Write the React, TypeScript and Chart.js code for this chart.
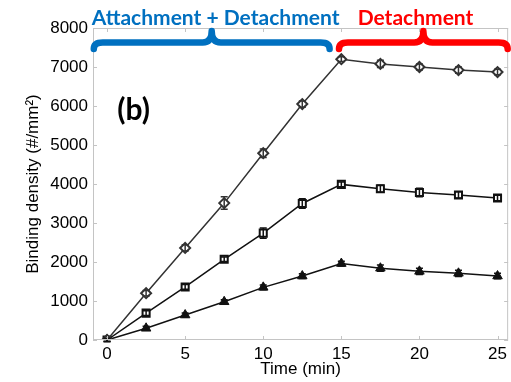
import React, { useEffect, useRef } from 'react';
import { Chart, registerables } from 'chart.js';

Chart.register(...registerables);

// ---- data ----
const times = [0, 2.5, 5, 7.5, 10, 12.5, 15, 17.5, 20, 22.5, 25];
const highValues = [0, 1200, 2360, 3510, 4790, 6050, 7200, 7080, 7000, 6920, 6870];
const highErrors = [40, 70, 80, 160, 110, 80, 60, 90, 80, 80, 70];
const midValues = [0, 690, 1360, 2070, 2740, 3500, 3990, 3880, 3780, 3720, 3640];
const midErrors = [40, 60, 60, 60, 130, 120, 60, 90, 110, 80, 70];
const lowValues = [0, 300, 640, 980, 1350, 1640, 1960, 1840, 1760, 1710, 1640];
const lowErrors = [40, 50, 50, 50, 60, 60, 60, 80, 80, 80, 70];

const xTicks = [0, 5, 10, 15, 20, 25];
const yTicks = [0, 1000, 2000, 3000, 4000, 5000, 6000, 7000, 8000];

const phaseLabels = ['Attachment + Detachment', 'Detachment'];
const phaseColors = ['#0070C0', '#FF0000'];
const phaseStarts = [-0.85, 14.85];
const phaseEnds = [14.25, 25.65];
const phaseTips = [6.7, 20.25];
const phaseLabelCenters = [6.95, 19.75];

const panelLabel = '(b)';
const panelLabelX = 1.7;
const panelLabelY = 5880;

const AXIS_FONT = '"Liberation Sans", Arial, sans-serif';
const NOTE_FONT = 'Lato, "Open Sans", sans-serif';

const errorPlugin = {
  id: 'errorBarsAndNotes',
  afterDatasetsDraw(chart: any) {
    const ctx = chart.ctx;
    const xs = chart.scales.x;
    const ys = chart.scales.y;
    const errs = [highErrors, midErrors, lowErrors];
    ctx.save();
    chart.data.datasets.forEach((ds: any, i: number) => {
      ctx.strokeStyle = ds.borderColor;
      ctx.lineWidth = 1.5;
      ds.data.forEach((p: any, j: number) => {
        const e = errs[i][j];
        const px = xs.getPixelForValue(p.x);
        const y1 = ys.getPixelForValue(p.y - e);
        const y2 = ys.getPixelForValue(p.y + e);
        ctx.beginPath();
        ctx.moveTo(px, y1);
        ctx.lineTo(px, y2);
        ctx.moveTo(px - 3.5, y1);
        ctx.lineTo(px + 3.5, y1);
        ctx.moveTo(px - 3.5, y2);
        ctx.lineTo(px + 3.5, y2);
        ctx.stroke();
      });
    });
    ctx.restore();
  },
  afterDraw(chart: any) {
    const ctx = chart.ctx;
    const xs = chart.scales.x;
    const ys = chart.scales.y;
    const a = chart.chartArea;
    ctx.save();
    // frame
    ctx.strokeStyle = '#c4c4c4';
    ctx.lineWidth = 1;
    ctx.strokeRect(a.left + 0.5, a.top + 0.5, a.right - a.left - 1, a.bottom - a.top - 1);
    ctx.beginPath();
    xTicks.forEach((t) => {
      const px = Math.round(xs.getPixelForValue(t)) + 0.5;
      ctx.moveTo(px, a.bottom);
      ctx.lineTo(px, a.bottom - 4);
      ctx.moveTo(px, a.top);
      ctx.lineTo(px, a.top + 4);
    });
    yTicks.forEach((t) => {
      const py = Math.round(ys.getPixelForValue(t)) + 0.5;
      ctx.moveTo(a.left, py);
      ctx.lineTo(a.left + 4, py);
      ctx.moveTo(a.right, py);
      ctx.lineTo(a.right - 4, py);
    });
    ctx.stroke();

    // braces
    ctx.lineWidth = 6.5;
    ctx.lineCap = 'round';
    ctx.lineJoin = 'round';
    const yTip = a.top + 3;
    const yMid = a.top + 14.5;
    const yEnd = a.top + 21;
    const r = 9;
    for (let i = 0; i < phaseLabels.length; i++) {
      const x1 = xs.getPixelForValue(phaseStarts[i]);
      const x2 = xs.getPixelForValue(phaseEnds[i]);
      const xm = xs.getPixelForValue(phaseTips[i]);
      ctx.strokeStyle = phaseColors[i];
      ctx.beginPath();
      ctx.moveTo(x1, yEnd);
      ctx.quadraticCurveTo(x1, yMid, x1 + r, yMid);
      ctx.lineTo(xm - r, yMid);
      ctx.quadraticCurveTo(xm, yMid, xm, yTip);
      ctx.quadraticCurveTo(xm, yMid, xm + r, yMid);
      ctx.lineTo(x2 - r, yMid);
      ctx.quadraticCurveTo(x2, yMid, x2, yEnd);
      ctx.stroke();

      ctx.fillStyle = phaseColors[i];
      ctx.font = `bold 21px ${NOTE_FONT}`;
      ctx.textAlign = 'center';
      ctx.textBaseline = 'alphabetic';
      ctx.fillText(phaseLabels[i], xs.getPixelForValue(phaseLabelCenters[i]), 25);
    }

    // panel label
    ctx.fillStyle = '#000';
    ctx.font = `bold 30px ${NOTE_FONT}`;
    ctx.textAlign = 'center';
    ctx.textBaseline = 'middle';
    ctx.fillText(panelLabel, xs.getPixelForValue(panelLabelX), ys.getPixelForValue(panelLabelY));
    ctx.restore();
  },
};

const App: React.FC = () => {
  const canvasRef = useRef<HTMLCanvasElement | null>(null);

  useEffect(() => {
    if (!canvasRef.current) return;
    const toPts = (vals: number[]) => times.map((t, i) => ({ x: t, y: vals[i] }));
    const chart = new Chart(canvasRef.current, {
      type: 'line',
      data: {
        datasets: [
          {
            label: 'high',
            data: toPts(highValues),
            borderColor: '#333333',
            backgroundColor: '#ffffff',
            borderWidth: 1.5,
            pointStyle: 'rectRot',
            pointRadius: 5,
            pointBorderWidth: 2,
            pointBackgroundColor: '#ffffff',
            pointBorderColor: '#333333',
          },
          {
            label: 'mid',
            data: toPts(midValues),
            borderColor: '#111111',
            backgroundColor: '#ffffff',
            borderWidth: 1.5,
            pointStyle: 'rect',
            pointRadius: 5,
            pointBorderWidth: 2,
            pointBackgroundColor: '#ffffff',
            pointBorderColor: '#111111',
          },
          {
            label: 'low',
            data: toPts(lowValues),
            borderColor: '#111111',
            backgroundColor: '#111111',
            borderWidth: 1.5,
            pointStyle: 'triangle',
            pointRadius: 5.5,
            pointBorderWidth: 1,
            pointBackgroundColor: '#111111',
            pointBorderColor: '#111111',
          },
        ],
      },
      options: {
        animation: false,
        responsive: false,
        maintainAspectRatio: false,
        layout: { autoPadding: false, padding: { top: 28, right: 1, left: 0, bottom: 0 } },
        plugins: { legend: { display: false }, tooltip: { enabled: false } },
        scales: {
          x: {
            type: 'linear',
            min: -0.9,
            max: 25.68,
            afterFit: (s: any) => { s.height = 42; },
            afterBuildTicks: (s: any) => { s.ticks = xTicks.map((v) => ({ value: v })); },
            grid: { display: false, drawTicks: false },
            border: { display: false },
            ticks: {
              color: '#000',
              padding: 4,
              font: { size: 17, family: AXIS_FONT },
              callback: (v: any) => String(v),
            },
            title: {
              display: true,
              text: 'Time (min)',
              color: '#000',
              font: { size: 17, family: AXIS_FONT },
              padding: { top: 0, bottom: 2 },
            },
          },
          y: {
            type: 'linear',
            min: 0,
            max: 8000,
            afterFit: (s: any) => { s.width = 93; },
            afterBuildTicks: (s: any) => { s.ticks = yTicks.map((v) => ({ value: v })); },
            grid: { display: false, drawTicks: false },
            border: { display: false },
            ticks: {
              color: '#000',
              padding: 5,
              font: { size: 17, family: AXIS_FONT },
              callback: (v: any) => String(v),
            },
            title: {
              display: true,
              text: 'Binding density (#/mm²)',
              color: '#000',
              font: { size: 17, family: AXIS_FONT },
              padding: { top: 23, bottom: 0 },
            },
          },
        },
      },
      plugins: [errorPlugin],
    });
    return () => chart.destroy();
  }, []);

  return (
    <div style={{ position: 'fixed', left: 0, top: 0, width: 511, height: 382, background: '#fff' }}>
      <canvas ref={canvasRef} width={511} height={382} style={{ width: 511, height: 382, display: 'block' }} />
    </div>
  );
};

export default App;
